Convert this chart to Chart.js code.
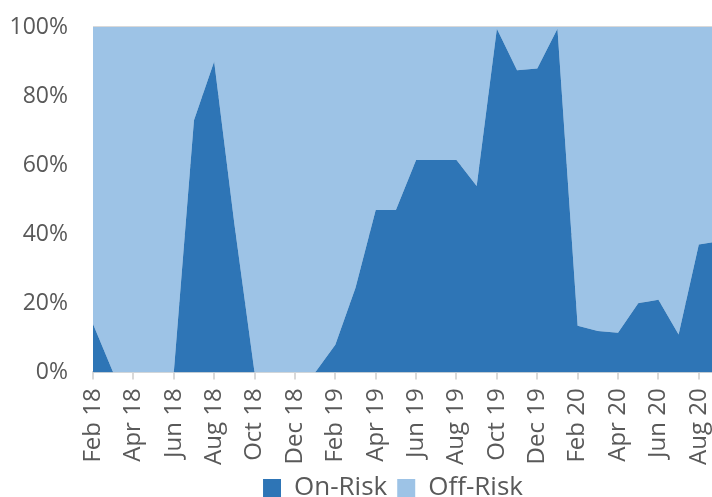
<!DOCTYPE html>
<html>
<head>
<meta charset="utf-8">
<script src="https://cdn.jsdelivr.net/npm/chart.js@4/dist/chart.umd.min.js"></script>
<style>
   html, body { margin: 0; padding: 0; overflow: hidden; background: #fff; }
   #wrap { width: 722px; height: 511px; }
</style>
</head>
<body>
<div id="wrap"><canvas id="grafRisco"></canvas></div>
<script>
//-> DADOS DO GRÁFICO...
const meses = ['Feb 18','Mar 18','Apr 18','May 18','Jun 18','Jul 18','Aug 18','Sep 18','Oct 18','Nov 18','Dec 18','Jan 19',
               'Feb 19','Mar 19','Apr 19','May 19','Jun 19','Jul 19','Aug 19','Sep 19','Oct 19','Nov 19','Dec 19','Jan 20',
               'Feb 20','Mar 20','Apr 20','May 20','Jun 20','Jul 20','Aug 20','Sep 20'];
const onRisk  = [14, 0, 0, 0, 0, 73, 90, 43, 0, 0, 0, 0,
                 8, 24.5, 47, 47, 61.5, 61.5, 61.5, 54, 99.5, 87.5, 88, 99.5,
                 13.5, 12, 11.5, 20, 21, 11, 37, 38];
const offRisk = [86, 100, 100, 100, 100, 27, 10, 57, 100, 100, 100, 100,
                 92, 75.5, 53, 53, 38.5, 38.5, 38.5, 46, 0.5, 12.5, 12, 0.5,
                 86.5, 88, 88.5, 80, 79, 89, 63, 62];
const yTicks = [0, 20, 40, 60, 80, 100];

const cinza = '#595959';

//-> legenda um pouco à direita, como no original
const deslocaLegenda = {
   id: 'deslocaLegenda',
   afterLayout(chart) {
      chart.legend.left += 29;
      chart.legend.right += 29;
   }
};

var ctxRisco = document.getElementById('grafRisco').getContext('2d');
var chartjs = new Chart(ctxRisco, {
   type: 'line',
   data: {
      labels: meses,
      datasets: [{
         label: 'On-Risk',
         data: onRisk,
         fill: 'origin',
         borderWidth: 0,
         pointRadius: 0,
         borderColor: 'rgb(46,117,182)',
         backgroundColor: 'rgb(46,117,182)'
      }, {
         label: 'Off-Risk',
         data: offRisk,
         fill: '-1',
         borderWidth: 0,
         pointRadius: 0,
         borderColor: 'rgb(157,195,230)',
         backgroundColor: 'rgb(157,195,230)'
      }]
   },
   plugins: [deslocaLegenda],
   options: {
      responsive: true,
      maintainAspectRatio: false,
      animation: false,
      layout: { padding: { top: 27, left: 9, right: 3, bottom: 0 } },
      plugins: {
         tooltip: { enabled: false },
         legend: {
            position: 'bottom',
            labels: {
               color: cinza,
               font: { family: 'Open Sans', size: 26 },
               boxWidth: 18,
               boxHeight: 18,
               padding: 10
            }
         }
      },
      scales: {
         x: {
            offset: false,
            grid: {
               drawOnChartArea: false,
               tickLength: 7,
               lineWidth: 2,
               color: (c) => (c.index % 2 ? 'transparent' : '#d9d9d9')
            },
            border: { color: '#d9d9d9', width: 2 },
            ticks: {
               autoSkip: false,
               minRotation: 90,
               maxRotation: 90,
               padding: 9,
               color: cinza,
               font: { family: 'Open Sans', size: 24 },
               callback: function (v, i) { return i % 2 ? '' : meses[i]; }
            },
            afterFit: (ax) => { ax.paddingLeft = 0; ax.paddingRight = 0; ax.height -= 9; }
         },
         y: {
            stacked: true,
            min: 0,
            max: 100,
            afterBuildTicks: (ax) => { ax.ticks = yTicks.map(v => ({ value: v })); },
            grid: { drawTicks: false, color: '#d9d9d9', lineWidth: 2 },
            border: { display: false },
            ticks: {
               padding: 25,
               color: cinza,
               font: { family: 'Open Sans', size: 23 },
               callback: (v) => v + '%'
            },
            afterFit: (ax) => { ax.width = 84; ax.paddingTop = 0; ax.paddingBottom = 0; }
         }
      }
   }
});
</script>
</body>
</html>
